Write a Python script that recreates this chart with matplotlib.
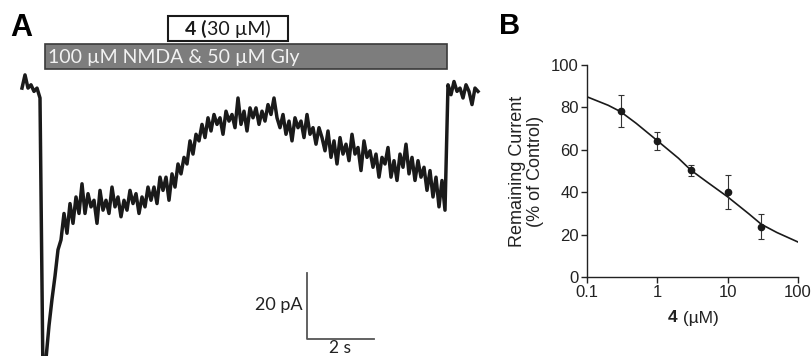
import numpy as np
from matplotlib import pyplot as plt
from matplotlib.patches import Rectangle

# panel A: whole-cell current trace (pA), one sample every dt seconds
dt = 0.09
trace_pA = [
    0, 4, 0, 1, -1, 0, -3,
    -88, -82, -72, -64, -57, -49, -46, -38, -44, -35, -41, -33, -38,
    -29, -38, -32, -36, -34, -41, -31, -37, -34, -38,
    -30, -36, -33, -39, -34, -37, -31, -35, -32, -38,
    -33, -36, -30, -34, -30, -35, -27, -31, -27, -34,
    -26, -30, -23, -26, -21, -23, -16, -20, -14, -16,
    -11, -15, -9, -13, -8, -11, -9, -14, -7, -10,
    -8, -12, -3, -11, -7, -13, -6, -9, -6, -11,
    -7, -10, -5, -8, -3, -9,
    -12, -8, -14, -10, -16, -9, -12, -10, -15, -8, -14, -12, -17, -12, -15,
    -19, -13, -21, -16, -23, -15, -20, -17, -22, -14,
    -20, -18, -25, -16, -21, -19, -24, -20, -27, -21,
    -23, -18, -27, -22, -28, -20, -24, -17, -26, -21,
    -28, -22, -27, -24, -31, -25, -33, -27, -36, -28, -37,
    1, -2, 2, -1, 0, -3, 1, -1, -5, 0, -1,
]
agonist_on, agonist_off = 0.69, 12.75
drug_on, drug_off = 4.37, 7.97

# panel B: concentration-response
conc_uM = [0.3, 1, 3, 10, 30]
remaining = [78.3, 64.3, 50.4, 40.0, 23.7]
err_low = [7.7, 4.4, 2.6, 8.1, 5.9]
err_high = [7.4, 4.0, 2.4, 8.1, 6.0]
fit_conc = [0.1, 0.2, 0.3, 0.5, 1, 2, 3, 5, 10, 20, 30, 50, 100]
fit_remaining = [85.0, 81.0, 78.0, 72.5, 64.3, 56.0, 50.4, 45.0, 37.8, 29.8, 24.9, 21.0, 16.5]

W, H = 812, 356
fig = plt.figure(figsize=(W / 100, H / 100), dpi=100)
lato = ["Lato", "DejaVu Sans"]
arial = ["Liberation Sans", "DejaVu Sans"]
ink = "#1a1a1a"

# ---- panel A
ax = fig.add_axes([0, 0, 490 / W, 1])
ax.axis("off")
ax.set_xlim(-0.66, 14.04)
ax.set_ylim(-81.2, 26.7)
t = np.arange(len(trace_pA)) * dt
ax.plot(t, trace_pA, color=ink, lw=2.5)

ax.add_patch(Rectangle((agonist_on, 5.8), agonist_off - agonist_on, 7.6,
                       facecolor="#7d7d7d", edgecolor="#3a3a3a", lw=1.2))
ax.text(agonist_on + 0.1, 9.4, "100 µM NMDA & 50 µM Gly", color="#f2f2f2",
        fontsize=14, family=lato, va="center", ha="left")
ax.add_patch(Rectangle((drug_on, 14.2), drug_off - drug_on, 7.6,
                       facecolor="white", edgecolor=ink, lw=1.5))
t1 = ax.text(drug_on + 0.52, 18.0, "4 (", color=ink, fontsize=14, family=lato,
             fontweight="bold", va="center", ha="left")
ax.annotate("30 µM)", xy=(1, 0.5), xycoords=t1, va="center", ha="left",
            color=ink, fontsize=14, family=lato)

# scale bar: 20 pA, 2 s
sx, sy = 8.55, -76.1
ax.plot([sx, sx, sx + 2], [sy + 20, sy, sy], color="#555555", lw=1.3)
ax.text(sx - 0.15, sy + 10.5, "20 pA", fontsize=13, family=lato,
        ha="right", va="center", color="#222222")
ax.text(sx + 1.0, -81.1, "2 s", fontsize=12.5, family=lato,
        ha="center", va="bottom", color="#222222")

fig.text(10 / W, 1 - 36 / H, "A", fontsize=22, fontweight="bold", family=arial)
fig.text(499 / W, 1 - 34 / H, "B", fontsize=21, fontweight="bold", family=arial)

# ---- panel B
axb = fig.add_axes([587 / W, 79 / H, 211 / W, 212 / H])
axb.set_xscale("log")
axb.set_xlim(0.1, 100)
axb.set_ylim(0, 100)
axb.plot(fit_conc, fit_remaining, color=ink, lw=1.2)
axb.errorbar(conc_uM, remaining, yerr=[err_low, err_high], fmt="o", color=ink,
             ms=4.5, elinewidth=0.8, ecolor="#333333", capsize=2.5, capthick=0.8)
axb.set_xticks([0.1, 1, 10, 100])
axb.set_xticklabels(["0.1", "1", "10", "100"])
axb.minorticks_off()
axb.set_yticks([0, 20, 40, 60, 80, 100])
for s in ["top", "right"]:
    axb.spines[s].set_visible(False)
for s in ["left", "bottom"]:
    axb.spines[s].set_color("#222222")
    axb.spines[s].set_linewidth(1.0)
axb.tick_params(direction="out", length=4, width=1.0, colors="#222222",
                labelsize=12, pad=2)
for lab in axb.get_xticklabels() + axb.get_yticklabels():
    lab.set_family(arial)
axb.set_ylabel("Remaining Current\n(% of Control)", fontsize=13, family=arial,
               color="#222222", labelpad=5, linespacing=1.1)

# x label "4 (µM)" with bold 4
x1 = fig.text(668 / W, 1 - 318 / H, "4", fontsize=12.5, family=arial,
              fontweight="bold", color="#222222", ha="left", va="center")
axb.annotate(" (µM)", xy=(1, 0.5), xycoords=x1, va="center", ha="left",
             fontsize=12.5, family=arial, color="#222222")

fig.savefig("out.png", dpi=100)
